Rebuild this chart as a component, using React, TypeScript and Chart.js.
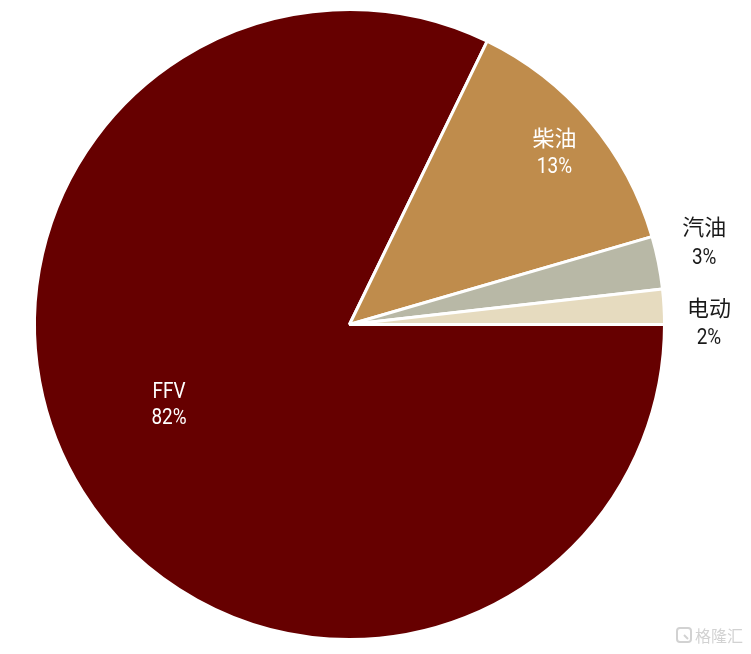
import { useEffect, useRef } from "react";
import { Chart, registerables } from "chart.js";

Chart.register(...registerables);

const categories = ["FFV", "柴油", "汽油", "电动"];
const shares = [82.2, 13.3, 2.7, 1.8];
const sliceColors = ["#660000", "#BF8C4C", "#B8B8A6", "#E6DBBF"];
const labelColors = ["#FFFFFF", "#FFFFFF", "#1A1A1A", "#1A1A1A"];

// label placement relative to each slice: angle shift from slice middle (deg), radius factor, half line gap
const labelPlacement = [
  { shift: 8.5, r: 0.625, gap: 13.3 },
  { shift: 0, r: 0.851, gap: 13.8 },
  { shift: -1.76, r: 1.156, gap: 14.5 },
  { shift: 2.84, r: 1.141, gap: 14.3 },
];

const CJK_FONT = '22px "Noto Sans CJK SC", "Noto Sans", sans-serif';
const LATIN_FONT = '22px Roboto, "Liberation Sans", sans-serif';
const LATIN_SQUEEZE = 0.86;

// draws text so that its visual (ink) centre sits at (x, y)
function drawLine(ctx: CanvasRenderingContext2D, text: string, x: number, y: number) {
  const hasCJK = /[\u4e00-\u9fff]/.test(text);
  ctx.save();
  ctx.textAlign = "center";
  ctx.textBaseline = "alphabetic";
  ctx.font = hasCJK ? CJK_FONT : LATIN_FONT;
  const m = ctx.measureText(text);
  const base = y + (m.actualBoundingBoxAscent - m.actualBoundingBoxDescent) / 2;
  if (hasCJK) {
    ctx.fillText(text, x, base);
  } else {
    ctx.translate(x, base);
    ctx.scale(LATIN_SQUEEZE, 1);
    ctx.fillText(text, 0, 0);
  }
  ctx.restore();
}

const labelPlugin = {
  id: "sliceLabels",
  afterDatasetsDraw(chart: any) {
    const ctx: CanvasRenderingContext2D = chart.ctx;
    const meta = chart.getDatasetMeta(0);
    ctx.save();
    meta.data.forEach((arc: any, i: number) => {
      const p = arc.getProps(["x", "y", "startAngle", "endAngle", "outerRadius"], true);
      const place = labelPlacement[i];
      const mid = (p.startAngle + p.endAngle) / 2 + (place.shift * Math.PI) / 180;
      const cx = p.x + Math.cos(mid) * p.outerRadius * place.r;
      const cy = p.y + Math.sin(mid) * p.outerRadius * place.r;
      ctx.fillStyle = labelColors[i];
      drawLine(ctx, categories[i], cx, cy - place.gap);
      drawLine(ctx, Math.round(shares[i]) + "%", cx, cy + place.gap);
    });
    // watermark
    ctx.fillStyle = "#D2D2D2";
    ctx.strokeStyle = "#D2D2D2";
    ctx.lineWidth = 2;
    ctx.beginPath();
    ctx.roundRect(677, 628, 14, 14, 3);
    ctx.stroke();
    ctx.beginPath();
    ctx.moveTo(684, 635);
    ctx.lineTo(688, 639);
    ctx.stroke();
    ctx.font = '16px "Noto Sans CJK SC", sans-serif';
    ctx.textAlign = "left";
    ctx.textBaseline = "middle";
    ctx.fillText("格隆汇", 695, 636);
    ctx.restore();
  },
};

export default function App() {
  const ref = useRef<HTMLCanvasElement | null>(null);
  useEffect(() => {
    document.body.style.margin = "0";
    const canvas = ref.current;
    if (!canvas) return;
    const chart = new Chart(canvas, {
      type: "pie",
      data: {
        labels: categories,
        datasets: [
          {
            data: shares,
            backgroundColor: sliceColors,
            borderColor: "#FFFFFF",
            borderWidth: 3,
          },
        ],
      },
      options: {
        responsive: false,
        animation: false,
        rotation: 90,
        layout: { padding: { left: 33, right: 85, top: 8, bottom: 13 } },
        plugins: {
          legend: { display: false },
          tooltip: { enabled: false },
        },
      },
      plugins: [labelPlugin],
    });
    return () => chart.destroy();
  }, []);
  return (
    <div style={{ width: 751, height: 654, background: "#FFFFFF" }}>
      <canvas ref={ref} width={751} height={654} />
    </div>
  );
}
